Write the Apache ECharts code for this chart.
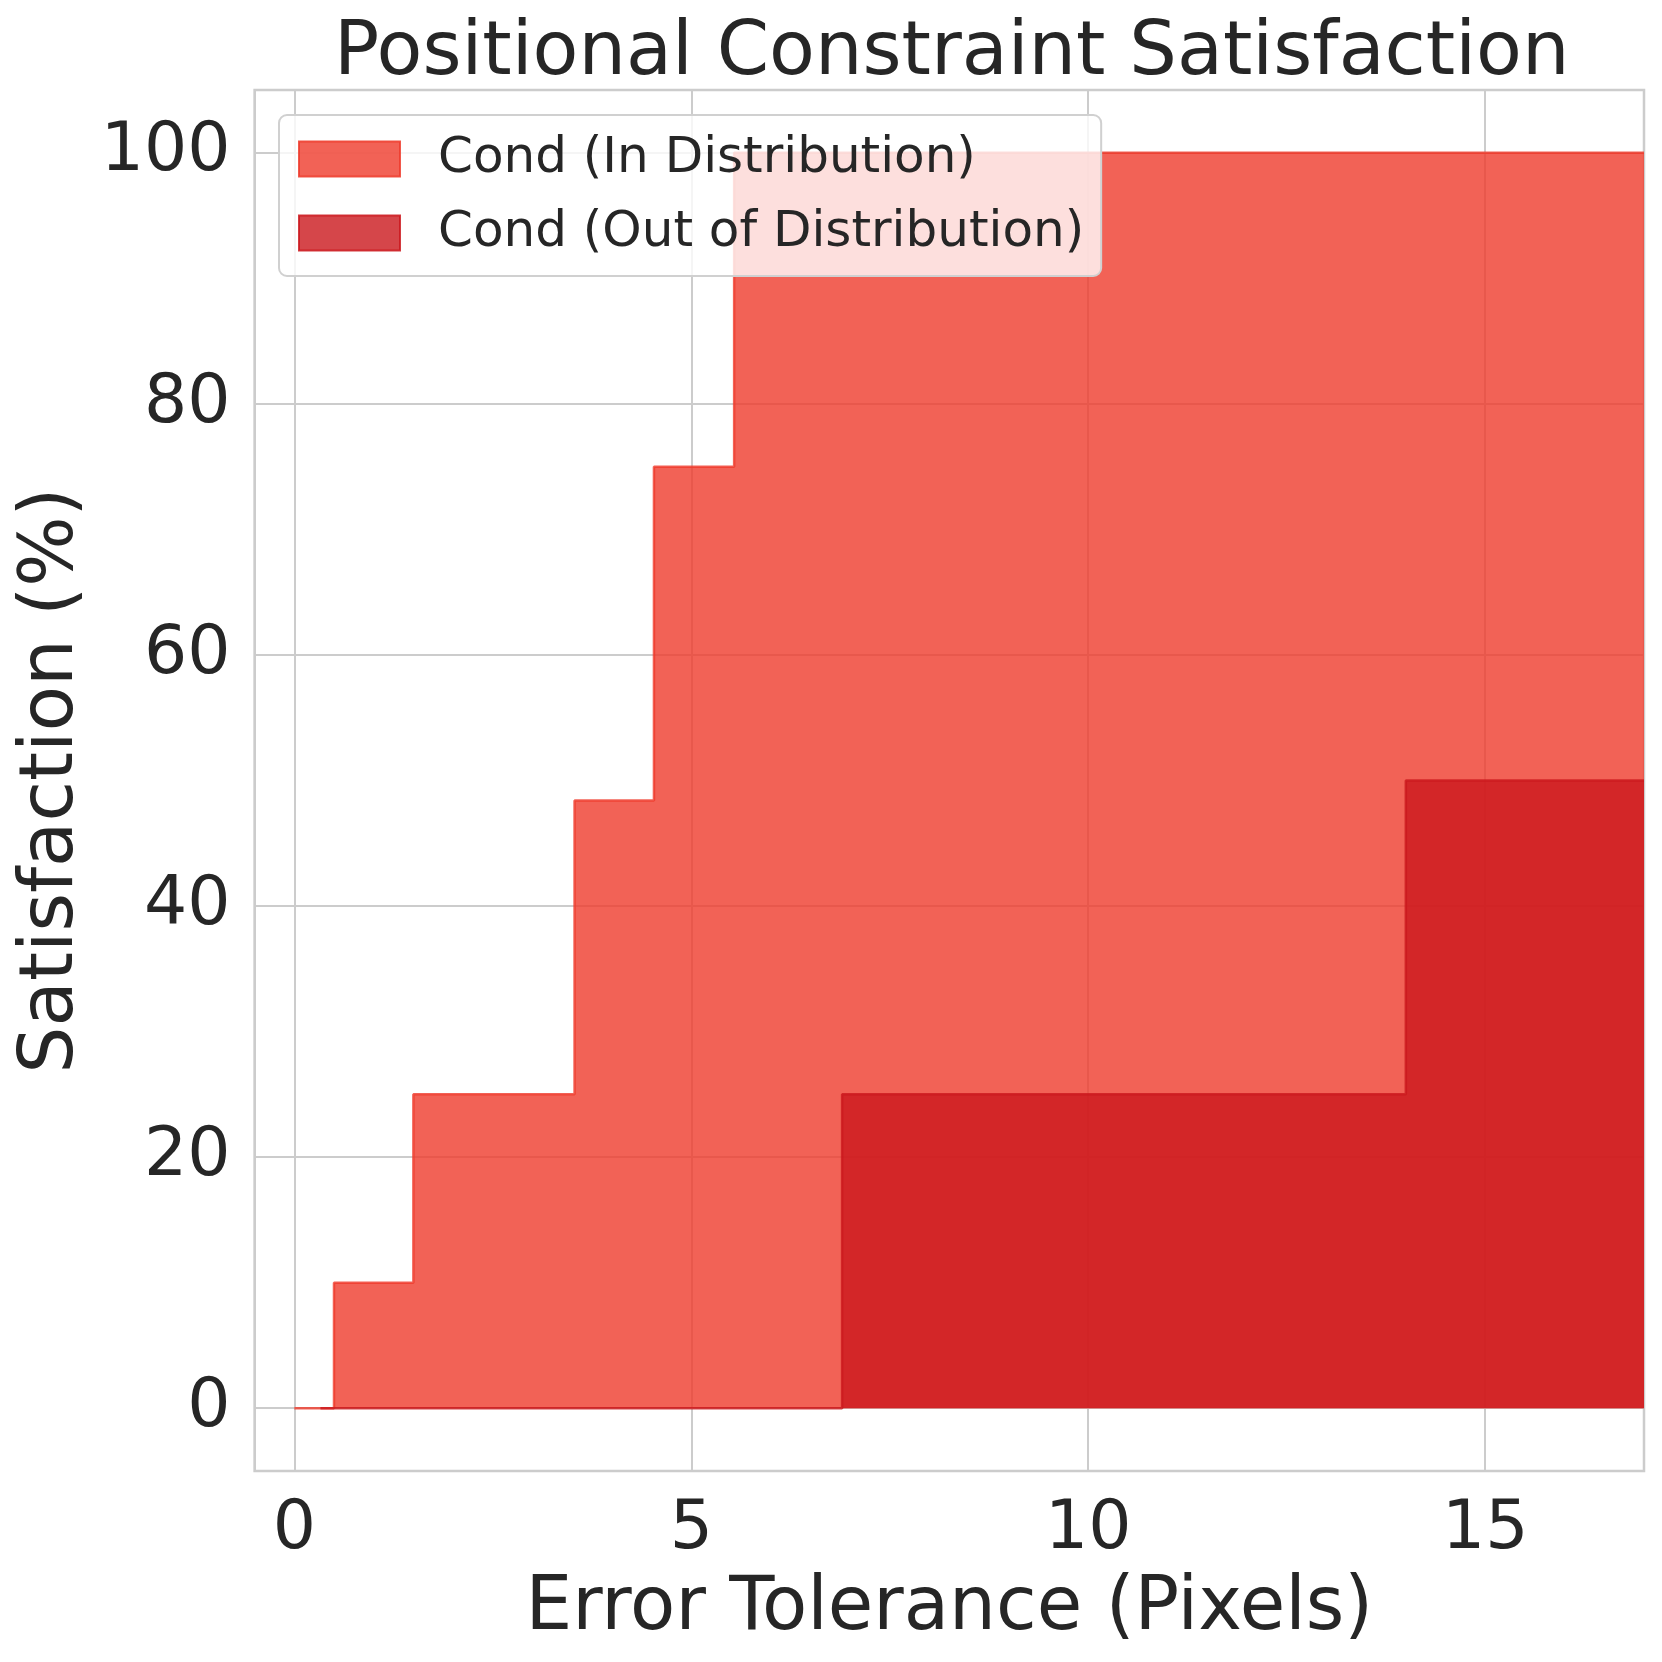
<!DOCTYPE html>
<html>
<head>
<meta charset="utf-8">
<script src="https://cdn.jsdelivr.net/npm/echarts@6/dist/echarts.min.js"></script>
<style>
html,body{margin:0;padding:0;background:#ffffff;}
#chart{width:1662px;height:1662px;}
</style>
</head>
<body>
<div id="chart"></div>
<script>
// ---- data ----
const titleText = 'Positional Constraint Satisfaction';
const xAxisName = 'Error Tolerance (Pixels)';
const yAxisName = 'Satisfaction (%)';
const seriesNames = ['Cond (In Distribution)', 'Cond (Out of Distribution)'];
const inDistX = [0, 0.5, 1.5, 3.53, 4.53, 5.54, 17];
const inDistY = [0, 10, 25, 48.4, 75, 100, 100];
const oodX = [0.33, 6.9, 14, 17];
const oodY = [0, 25, 50, 50];
const xRange = [-0.5, 17];
const yRange = [-5, 105];

// ---- styling ----
const FONT = 'DejaVu Sans';
const TEXT = '#262626';
const GRIDC = '#cccccc';
const inColor = 'rgba(239,59,44,0.8)';
const oodColor = 'rgba(203,24,29,0.8)';

function pairs(xs, ys) { return xs.map((x, i) => [x, ys[i]]); }

const chart = echarts.init(document.getElementById('chart'), null, {renderer: 'canvas'});
chart.setOption({
  animation: false,
  backgroundColor: '#ffffff',
  textStyle: {fontFamily: FONT, color: TEXT},
  title: {
    text: titleText,
    left: 329,
    top: 12,
    textStyle: {fontFamily: FONT, fontSize: 75, fontWeight: 'normal', color: TEXT}
  },
  grid: {
    left: 254.6, right: 18, top: 90, bottom: 191,
    show: true, borderColor: GRIDC, borderWidth: 2.5, backgroundColor: 'transparent',
    containLabel: false
  },
  legend: {
    left: 279, top: 115,
    orient: 'vertical',
    icon: 'rect',
    itemWidth: 101, itemHeight: 35, itemGap: 24,
    padding: [19, 17, 18, 19],
    backgroundColor: 'rgba(255,255,255,0.8)',
    borderColor: '#d0d0d0', borderWidth: 2, borderRadius: 8,
    textStyle: {fontFamily: FONT, fontSize: 50, color: TEXT, padding: [0, 0, 0, 33]},
    data: [
      {name: seriesNames[0], itemStyle: {color: inColor, borderColor: 'rgba(239,59,44,0.85)', borderWidth: 2}},
      {name: seriesNames[1], itemStyle: {color: oodColor, borderColor: 'rgba(203,24,29,0.85)', borderWidth: 2}}
    ]
  },
  xAxis: {
    type: 'value', min: xRange[0], max: xRange[1], splitNumber: 4,
    name: xAxisName, nameLocation: 'middle', nameGap: 102,
    nameTextStyle: {fontFamily: FONT, fontSize: 74, color: TEXT},
    axisLine: {show: false}, axisTick: {show: false},
    axisLabel: {fontFamily: FONT, fontSize: 68, color: TEXT, margin: 25, showMinLabel: false, showMaxLabel: false},
    splitLine: {show: true, lineStyle: {color: GRIDC, width: 2}}
  },
  yAxis: {
    type: 'value', min: yRange[0], max: yRange[1], splitNumber: 5,
    name: yAxisName, nameLocation: 'middle', nameGap: 156,
    nameTextStyle: {fontFamily: FONT, fontSize: 74, color: TEXT},
    axisLine: {show: false}, axisTick: {show: false},
    axisLabel: {fontFamily: FONT, fontSize: 68, color: TEXT, margin: 24, padding: [5, 0, 0, 0], showMinLabel: false, showMaxLabel: false},
    splitLine: {show: true, lineStyle: {color: GRIDC, width: 2}}
  },
  series: [
    {
      name: seriesNames[0], type: 'line', step: 'end', showSymbol: false, symbol: 'none',
      data: pairs(inDistX, inDistY),
      lineStyle: {color: inColor, width: 2.5},
      itemStyle: {color: inColor},
      areaStyle: {color: inColor, opacity: 1, origin: 0},
      z: 2
    },
    {
      name: seriesNames[1], type: 'line', step: 'end', showSymbol: false, symbol: 'none',
      data: pairs(oodX, oodY),
      lineStyle: {color: oodColor, width: 2.5},
      itemStyle: {color: oodColor},
      areaStyle: {color: oodColor, opacity: 1, origin: 0},
      z: 3
    }
  ]
});
</script>
</body>
</html>
